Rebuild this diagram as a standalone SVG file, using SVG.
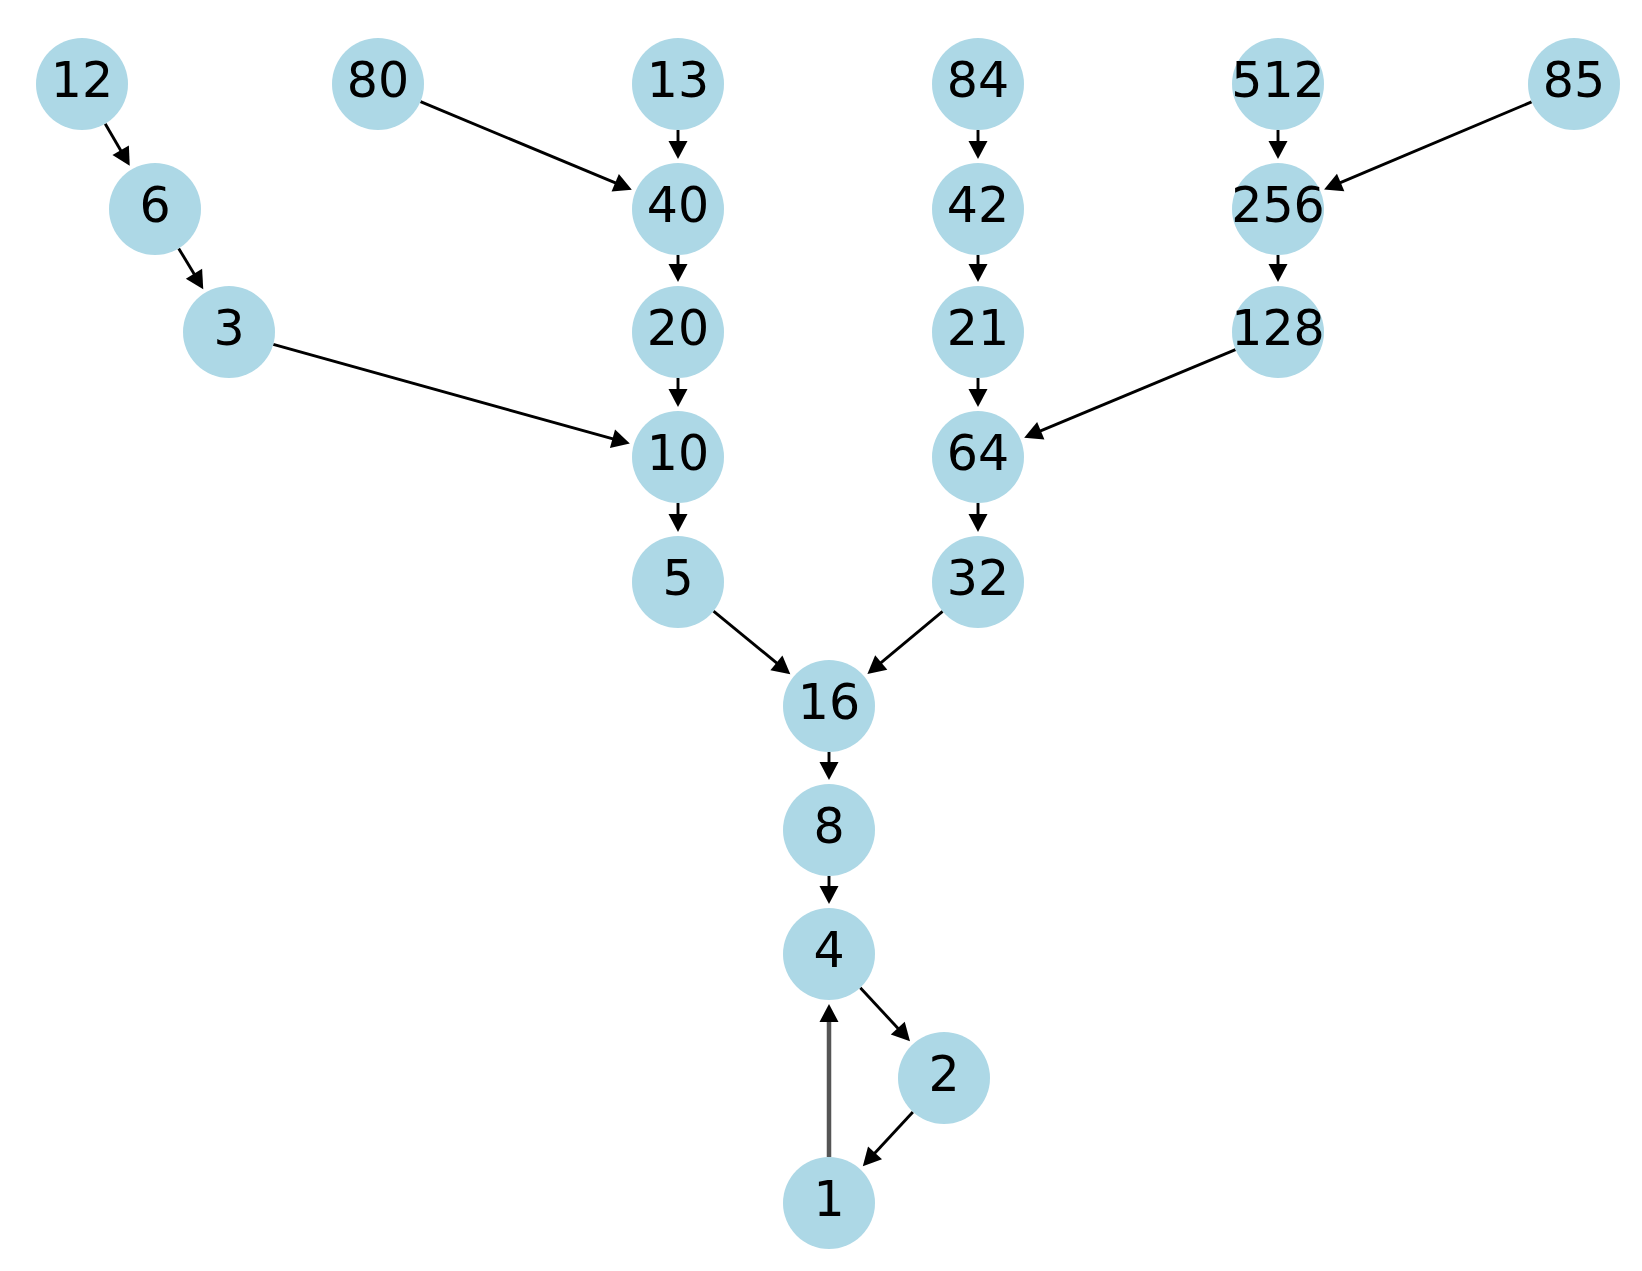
<svg xmlns="http://www.w3.org/2000/svg" width="1642" height="1271" viewBox="0 0 1642 1271">
<style>
.n{fill:#ADD8E6}
.t{font-family:"DejaVu Sans",sans-serif;font-size:49px;fill:#000;text-anchor:middle}
.e{stroke:#000;stroke-width:2.9;fill:none}
.g{stroke:#555;stroke-width:4.5;fill:none}
</style>
<defs>
<marker id="a" markerUnits="userSpaceOnUse" markerWidth="20" markerHeight="20" refX="8" refY="9.5" orient="auto" overflow="visible">
<path d="M0,0 L18,9.5 L0,19 Z" fill="#000"/>
</marker>
<marker id="ag" markerUnits="userSpaceOnUse" markerWidth="20" markerHeight="20" refX="8" refY="9.5" orient="auto" overflow="visible">
<path d="M0,0 L18,9.5 L0,19 Z" fill="#000"/>
</marker>
</defs>
<rect width="1642" height="1271" fill="#fff"/>
<g id="edges">
<line class="e" x1="105.2" y1="123.7" x2="124.7" y2="157.2" marker-end="url(#a)"/>
<line class="e" x1="178.7" y1="248.4" x2="198.1" y2="280.6" marker-end="url(#a)"/>
<line class="e" x1="273.3" y1="344.3" x2="620.2" y2="440.9" marker-end="url(#a)"/>
<line class="e" x1="420.5" y1="101.7" x2="622.6" y2="185.9" marker-end="url(#a)"/>
<line class="e" x1="678" y1="130" x2="678" y2="149" marker-end="url(#a)"/>
<line class="e" x1="678" y1="255" x2="678" y2="272" marker-end="url(#a)"/>
<line class="e" x1="678" y1="378" x2="678" y2="397" marker-end="url(#a)"/>
<line class="e" x1="678" y1="503" x2="678" y2="522" marker-end="url(#a)"/>
<line class="e" x1="978" y1="130" x2="978" y2="149" marker-end="url(#a)"/>
<line class="e" x1="978" y1="255" x2="978" y2="272" marker-end="url(#a)"/>
<line class="e" x1="978" y1="378" x2="978" y2="397" marker-end="url(#a)"/>
<line class="e" x1="978" y1="503" x2="978" y2="522" marker-end="url(#a)"/>
<line class="e" x1="1278" y1="130" x2="1278" y2="149" marker-end="url(#a)"/>
<line class="e" x1="1278" y1="255" x2="1278" y2="272" marker-end="url(#a)"/>
<line class="e" x1="1531.6" y1="101.9" x2="1333.3" y2="185.7" marker-end="url(#a)"/>
<line class="e" x1="1235.5" y1="349.7" x2="1033.4" y2="433.9" marker-end="url(#a)"/>
<line class="e" x1="713.5" y1="611.2" x2="782.6" y2="667.9" marker-end="url(#a)"/>
<line class="e" x1="942.6" y1="611.4" x2="875.1" y2="667.6" marker-end="url(#a)"/>
<line class="e" x1="829" y1="752" x2="829" y2="770" marker-end="url(#a)"/>
<line class="e" x1="829" y1="876" x2="829" y2="894" marker-end="url(#a)"/>
<line class="e" x1="860.3" y1="987.7" x2="903.2" y2="1034" marker-end="url(#a)"/>
<line class="e" x1="912.9" y1="1111.9" x2="869.6" y2="1158.8" marker-end="url(#a)"/>
<line class="g" x1="829" y1="1157" x2="829" y2="1014" marker-end="url(#ag)"/>
</g>
<g id="n12"><circle class="n" cx="82" cy="84" r="46"/><text class="t" x="82" y="97">12</text></g>
<g id="n80"><circle class="n" cx="378" cy="84" r="46"/><text class="t" x="378" y="97">80</text></g>
<g id="n13"><circle class="n" cx="678" cy="84" r="46"/><text class="t" x="678" y="97">13</text></g>
<g id="n84"><circle class="n" cx="978" cy="84" r="46"/><text class="t" x="978" y="97">84</text></g>
<g id="n512"><circle class="n" cx="1278" cy="84" r="46"/><text class="t" x="1278" y="97">512</text></g>
<g id="n85"><circle class="n" cx="1574" cy="84" r="46"/><text class="t" x="1574" y="97">85</text></g>
<g id="n6"><circle class="n" cx="155" cy="209" r="46"/><text class="t" x="155" y="222">6</text></g>
<g id="n40"><circle class="n" cx="678" cy="209" r="46"/><text class="t" x="678" y="222">40</text></g>
<g id="n42"><circle class="n" cx="978" cy="209" r="46"/><text class="t" x="978" y="222">42</text></g>
<g id="n256"><circle class="n" cx="1278" cy="209" r="46"/><text class="t" x="1278" y="222">256</text></g>
<g id="n3"><circle class="n" cx="229" cy="332" r="46"/><text class="t" x="229" y="345">3</text></g>
<g id="n20"><circle class="n" cx="678" cy="332" r="46"/><text class="t" x="678" y="345">20</text></g>
<g id="n21"><circle class="n" cx="978" cy="332" r="46"/><text class="t" x="978" y="345">21</text></g>
<g id="n128"><circle class="n" cx="1278" cy="332" r="46"/><text class="t" x="1278" y="345">128</text></g>
<g id="n10"><circle class="n" cx="678" cy="457" r="46"/><text class="t" x="678" y="470">10</text></g>
<g id="n64"><circle class="n" cx="978" cy="457" r="46"/><text class="t" x="978" y="470">64</text></g>
<g id="n5"><circle class="n" cx="678" cy="582" r="46"/><text class="t" x="678" y="595">5</text></g>
<g id="n32"><circle class="n" cx="978" cy="582" r="46"/><text class="t" x="978" y="595">32</text></g>
<g id="n16"><circle class="n" cx="829" cy="706" r="46"/><text class="t" x="829" y="719">16</text></g>
<g id="n8"><circle class="n" cx="829" cy="830" r="46"/><text class="t" x="829" y="843">8</text></g>
<g id="n4"><circle class="n" cx="829" cy="954" r="46"/><text class="t" x="829" y="967">4</text></g>
<g id="n2"><circle class="n" cx="944" cy="1078" r="46"/><text class="t" x="944" y="1091">2</text></g>
<g id="n1"><circle class="n" cx="829" cy="1203" r="46"/><text class="t" x="829" y="1216">1</text></g>
</svg>
